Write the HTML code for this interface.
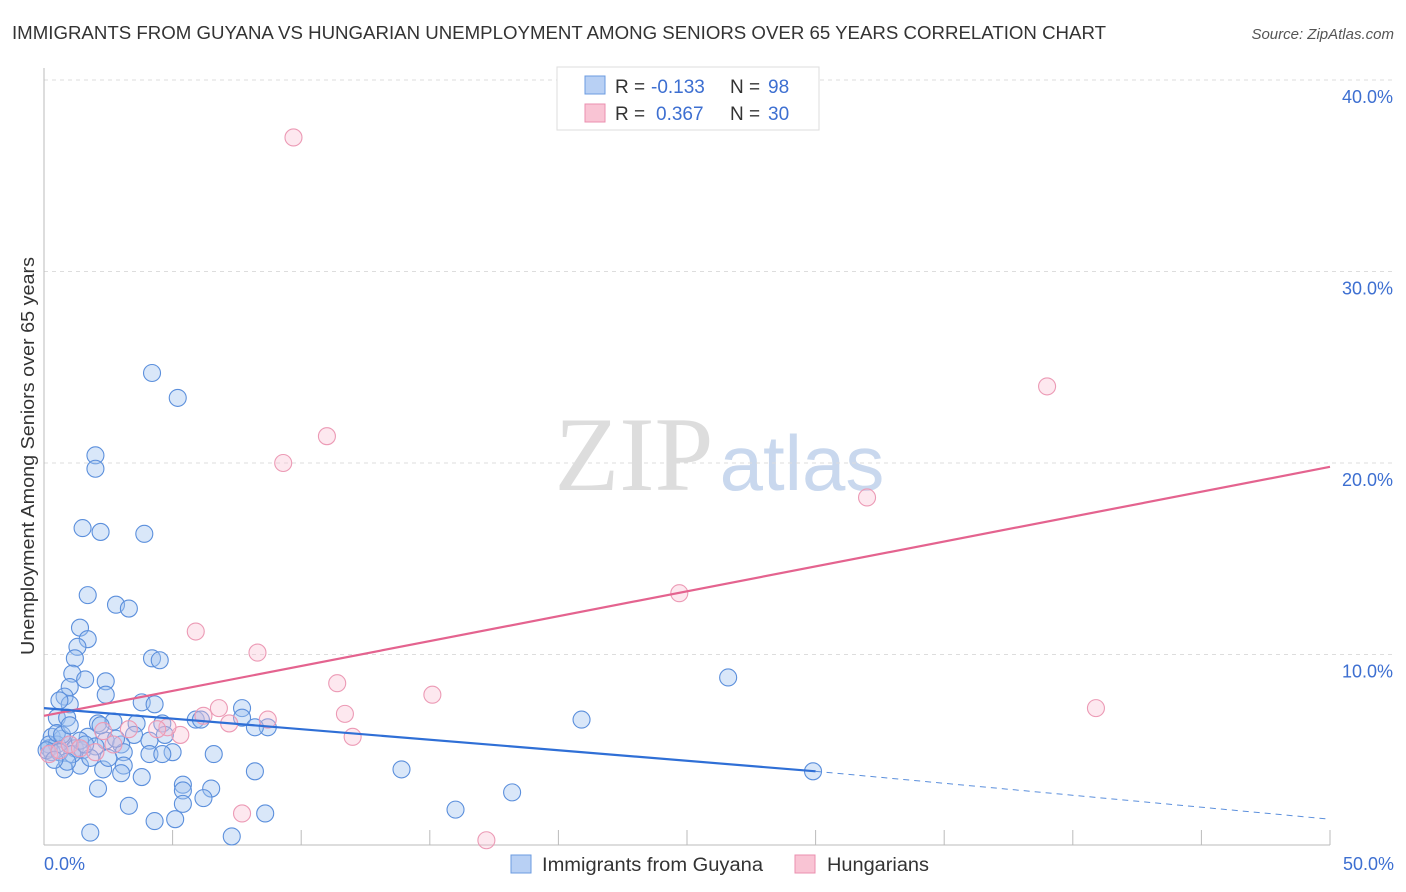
<!DOCTYPE html>
<html><head><meta charset="utf-8"><style>
body{margin:0;background:#fff;font-family:"Liberation Sans",sans-serif}
#c{position:relative;width:1406px;height:892px;overflow:hidden}
</style></head><body>
<div id="c">
<svg id="s" width="1406" height="892" xmlns="http://www.w3.org/2000/svg">
<text x="12" y="39" font-size="18" fill="#333" textLength="1094" lengthAdjust="spacingAndGlyphs">IMMIGRANTS FROM GUYANA VS HUNGARIAN UNEMPLOYMENT AMONG SENIORS OVER 65 YEARS CORRELATION CHART</text>
<text x="1394" y="39" font-size="15" fill="#555" text-anchor="end" font-style="italic">Source: ZipAtlas.com</text>
<text x="634" y="490" font-size="106" fill="#ddd" text-anchor="middle" font-family="Liberation Serif">ZIP</text>
<text x="802" y="490" font-size="78" fill="#c9d8ee" text-anchor="middle">atlas</text>
<text transform="translate(34,456) rotate(-90)" font-size="18" fill="#333" text-anchor="middle" textLength="398" lengthAdjust="spacingAndGlyphs">Unemployment Among Seniors over 65 years</text>
<g id="grid"></g><g id="axes"></g><g id="pts"></g><g id="lines"></g>
<g>
<rect x="557" y="67" width="262" height="63" fill="#fff" stroke="#ddd"/>
<rect x="585" y="76" width="20" height="18" fill="#b8d0f4" stroke="#6b9be0"/>
<rect x="585" y="104" width="20" height="18" fill="#f9c4d4" stroke="#eb8faf"/>
<text x="615" y="93" font-size="19" fill="#333">R =</text>
<text x="651" y="93" font-size="19" fill="#3d6fd1">-0.133</text>
<text x="730" y="93" font-size="19" fill="#333">N =</text>
<text x="768" y="93" font-size="19" fill="#3d6fd1">98</text>
<text x="615" y="120" font-size="19" fill="#333">R =</text>
<text x="656" y="120" font-size="19" fill="#3d6fd1">0.367</text>
<text x="730" y="120" font-size="19" fill="#333">N =</text>
<text x="768" y="120" font-size="19" fill="#3d6fd1">30</text>
</g>
<g>
<rect x="511" y="855" width="20" height="18" fill="#b8d0f4" stroke="#6b9be0"/>
<text x="542" y="871" font-size="19" fill="#333" textLength="221" lengthAdjust="spacingAndGlyphs">Immigrants from Guyana</text>
<rect x="795" y="855" width="20" height="18" fill="#f9c4d4" stroke="#eb8faf"/>
<text x="827" y="871" font-size="19" fill="#333" textLength="102" lengthAdjust="spacingAndGlyphs">Hungarians</text>
</g>
</svg>
</div>
<script>
const yTicks=[10,20,30,40];
const yTickLabels=["10.0%","20.0%","30.0%","40.0%"];
const xEndLabels=["0.0%","50.0%"];
const blueX=[4.2,5.2,2.0,2.0,1.5,2.2,3.9,1.7,2.8,3.3,1.4,1.7,1.3,1.2,4.2,4.5,1.1,1.6,1.0,2.4,2.4,0.8,1.0,0.6,3.8,4.3,0.5,7.7,5.9,6.1,20.9,26.6,0.9,2.1,2.7,3.6,4.6,7.7,8.7,8.2,4.7,0.3,0.7,1.7,3.5,4.1,2.4,3.0,0.2,0.5,1.0,1.2,1.5,2.0,5.0,6.6,4.1,4.6,3.1,3.1,1.4,2.3,0.8,3.0,3.8,8.2,13.9,29.9,5.4,5.4,6.5,2.1,18.2,3.3,4.3,5.1,6.2,5.4,7.3,8.6,16.0,1.8,0.2,0.3,0.1,0.6,1.1,1.8,2.5,0.5,0.9,2.8,1.4,0.4,0.7,1.0,2.2,1.6];
const blueY=[24.7,23.4,20.4,19.7,16.6,16.4,16.3,13.1,12.6,12.4,11.4,10.8,10.4,9.8,9.8,9.7,9.0,8.7,8.3,8.6,7.9,7.8,7.4,7.6,7.5,7.4,6.7,7.2,6.6,6.6,6.6,8.8,6.7,6.4,6.5,6.4,6.4,6.7,6.2,6.2,5.8,5.7,5.6,5.7,5.8,5.5,5.5,5.3,5.1,5.3,5.3,5.1,5.0,5.2,4.9,4.8,4.8,4.8,4.9,4.2,4.2,4.0,4.0,3.8,3.6,3.9,4.0,3.9,3.2,2.9,3.0,3.0,2.8,2.1,1.3,1.4,2.5,2.2,0.5,1.7,1.9,0.7,5.3,4.9,5.0,4.9,4.8,4.6,4.6,5.9,4.4,5.6,5.5,4.5,5.8,6.3,6.3,5.3];
const pinkX=[9.7,39.0,11.0,9.3,32.0,24.7,5.9,8.3,11.4,15.1,40.9,11.7,6.8,6.2,7.2,8.7,12.0,5.3,4.8,4.4,3.3,2.3,7.7,17.2,0.2,0.6,1.0,1.4,2.7,2.0];
const pinkY=[37.0,24.0,21.4,20.0,18.2,13.2,11.2,10.1,8.5,7.9,7.2,6.9,7.2,6.8,6.4,6.6,5.7,5.8,6.2,6.1,6.1,6.0,1.7,0.3,4.8,5.0,5.3,5.1,5.3,4.9];
const pinkTrend=[[0,6.8],[50,19.8]];
const blueTrendSolid=[[0,7.2],[30,3.9]];
const blueTrendDash=[[30,3.9],[50,1.4]];
const NS="http://www.w3.org/2000/svg";
const sx=v=>44+v*25.72, sy=v=>846-v*19.15;
function mk(parent,tag,attrs){const e=document.createElementNS(NS,tag);for(const k in attrs)e.setAttribute(k,attrs[k]);document.getElementById(parent).appendChild(e);return e;}
yTicks.forEach((t,i)=>{
 const l=mk('grid','line',{x1:44,x2:1394,y1:sy(t),y2:sy(t),stroke:'#ddd','stroke-dasharray':'4,4'});
 
 
 const tx=mk('grid','text',{x:1393,y:sy(t)+23,'font-size':18,fill:'#3d6fd1','text-anchor':'end'});
 tx.textContent=yTickLabels[i];
 
 
});
let a=mk('axes','line',{x1:44,x2:44,y1:68,y2:845,stroke:'#bbb'});


a=mk('axes','line',{x1:44,x2:1330,y1:845,y2:845,stroke:'#bbb'});


for(let v=5;v<=50;v+=5){const t=mk('axes','line',{x1:sx(v),x2:sx(v),y1:830,y2:845,stroke:'#bbb'});
 
 }
[[0,'start',44],[50,'end',1394]].forEach((d,i)=>{const t=mk('axes','text',{x:d[2],y:870,'font-size':18,fill:'#3d6fd1','text-anchor':d[1]});t.textContent=xEndLabels[i];
 
 });
blueX.forEach((x,i)=>{const c=mk('pts','circle',{cx:sx(x),cy:sy(blueY[i]),r:8.5,fill:'rgba(160,195,240,0.4)',stroke:'#5b8fdc','stroke-width':1.1});
 
 });
pinkX.forEach((x,i)=>{const c=mk('pts','circle',{cx:sx(x),cy:sy(pinkY[i]),r:8.5,fill:'rgba(248,190,208,0.35)',stroke:'#ec9ab5','stroke-width':1.1});
 
 });
function tl(p,col,w,dash){const l=mk('lines','line',{x1:sx(p[0][0]),y1:sy(p[0][1]),x2:sx(p[1][0]),y2:sy(p[1][1]),stroke:col,'stroke-width':w});if(dash)l.setAttribute('stroke-dasharray',dash);return l;}
let t1=tl(pinkTrend,'#e4638f',2.2);


let t2=tl(blueTrendSolid,'#2f6fd6',2.2);


let t3=tl(blueTrendDash,'#5b8fdc',1,'6,5');


</script>
</body></html>
